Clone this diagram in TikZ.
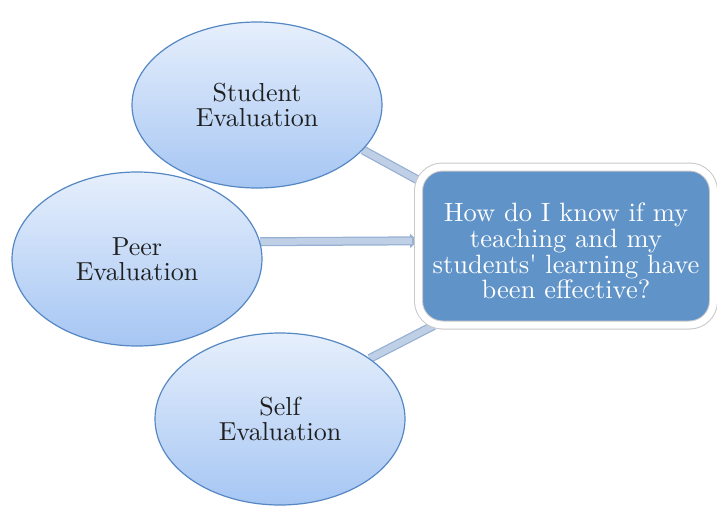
\documentclass[tikz,border=0pt]{standalone}
\usepackage{fontspec}
\setmainfont{lmroman10-regular}[Extension=.otf]
\usetikzlibrary{shapes.geometric,backgrounds,arrows.meta}
\definecolor{ellborder}{RGB}{85,135,195}
\definecolor{elltop}{RGB}{230,239,252}
\definecolor{ellbot}{RGB}{166,198,243}
\definecolor{boxblue}{RGB}{96,147,200}
\definecolor{connfill}{RGB}{190,207,230}
\definecolor{connedge}{RGB}{150,176,212}
\definecolor{boxedge}{RGB}{200,200,200}
\tikzset{
  evalnode/.style={ellipse, draw=ellborder, line width=1.2pt, top color=elltop, bottom color=ellbot,
    minimum width=250pt, minimum height=166pt, inner sep=0pt, align=center,
    font=\fontsize{26}{25}\selectfont, text=black!88},
  qbox/.style={rectangle, rounded corners=24pt, fill=boxblue, draw=boxedge, line width=1pt,
    double=white, double distance=7pt,
    minimum width=295pt, minimum height=158pt, inner sep=0pt},
  qtext/.style={align=center, text=white, inner sep=0pt,
    font=\fontsize{26.5}{25.6}\selectfont},
  connout/.style={line width=9pt, draw=connedge},
  connin/.style={line width=6.5pt, draw=connfill},
}
\begin{document}
\begin{tikzpicture}[x=1pt,y=-1pt]
\useasboundingbox (0,0) rectangle (717,506);
\node[evalnode] (stu) at (257,105) {Student\\Evaluation};
\node[evalnode, minimum height=174pt] (peer) at (137,259) {Peer\\Evaluation};
\node[evalnode, minimum height=172pt] (self) at (280,419) {Self\\Evaluation};
\node[qbox] (box) at (566,246) {};
\node[qtext] (q) at ([yshift=-5pt]box.center) {How do I know if my\\teaching and my\\students\textquotesingle{} learning have\\been effective?};
\begin{scope}[on background layer]
  \draw[connout] (stu.-23) -- (box.156);
  \draw[connin] (stu.-23) -- (box.156);
  \draw[connout] (self.34) -- (box.211);
  \draw[connin] (self.34) -- (box.211);
  \draw[connout, -{Triangle[length=8pt,width=14pt]}] (peer.8) -- (box.178);
  \draw[connin, shorten >=6pt] (peer.8) -- (box.178);
\end{scope}
\end{tikzpicture}
\end{document}
